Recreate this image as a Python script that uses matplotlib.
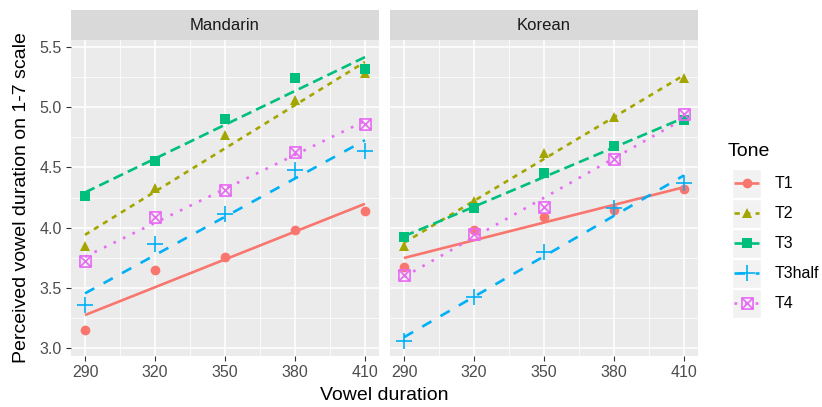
"""
Perceived vowel duration by tone, Mandarin vs Korean listeners.
ggplot-like facets redrawn with matplotlib: points + per-tone linear fit.
"""
import numpy as np
import matplotlib
matplotlib.use('Agg')
import matplotlib.pyplot as plt
from matplotlib.path import Path
from matplotlib.patches import Rectangle

plt.rcParams['font.family'] = ['Liberation Sans', 'DejaVu Sans']

durations = [290, 320, 350, 380, 410]
tones = ['T1', 'T2', 'T3', 'T3half', 'T4']
panels = ['Mandarin', 'Korean']

mandarin_T1 = [3.15, 3.65, 3.76, 3.98, 4.14]
mandarin_T2 = [3.85, 4.33, 4.77, 5.06, 5.28]
mandarin_T3 = [4.26, 4.55, 4.90, 5.24, 5.32]
mandarin_T3half = [3.36, 3.86, 4.11, 4.48, 4.64]
mandarin_T4 = [3.72, 4.09, 4.31, 4.63, 4.86]

korean_T1 = [3.67, 3.98, 4.09, 4.15, 4.32]
korean_T2 = [3.85, 4.22, 4.62, 4.92, 5.24]
korean_T3 = [3.92, 4.16, 4.45, 4.68, 4.89]
korean_T3half = [3.06, 3.42, 3.80, 4.16, 4.37]
korean_T4 = [3.61, 3.95, 4.17, 4.57, 4.94]

values = {
    'Mandarin': [mandarin_T1, mandarin_T2, mandarin_T3, mandarin_T3half, mandarin_T4],
    'Korean': [korean_T1, korean_T2, korean_T3, korean_T3half, korean_T4],
}

# ggplot hue palette, default linetypes and shapes 16/17/15/3/7
colors = ['#F8766D', '#A3A500', '#00BF7D', '#00B0F6', '#E76BF3']
dashes = [None, (2, 2), (4, 2), (4, 4), (1, 3)]
box_x = Path([(-1, -1), (1, -1), (1, 1), (-1, 1), (-1, -1),
              (-1, -1), (1, 1), (-1, 1), (1, -1)],
             [Path.MOVETO, Path.LINETO, Path.LINETO, Path.LINETO, Path.CLOSEPOLY,
              Path.MOVETO, Path.LINETO, Path.MOVETO, Path.LINETO])
markers = ['o', '^', 's', '+', box_x]
msizes = [7, 7.5, 6.5, 11.5, 8]

W, H = 822, 407
fig = plt.figure(figsize=(W / 100, H / 100), dpi=100)
fig.patch.set_facecolor('white')

def fx(px):
    return px / W

def fy(py):
    return 1 - py / H

panel_left = [71, 390]
panel_w = 308
p_top, p_bot, s_top = 40, 356, 10

x = np.array(durations, dtype=float)
xfit = np.linspace(290, 410, 50)

def draw_series(ax, xs, ys, i, xf=None, yf=None, lw=1.9):
    kw = dict(color=colors[i], lw=lw, solid_capstyle='butt', dash_capstyle='butt')
    if dashes[i] is not None:
        kw['dashes'] = dashes[i]
    if xf is not None:
        ax.plot(xf, yf, zorder=3, **kw)
    mk = dict(marker=markers[i], ms=msizes[i], ls='none', color=colors[i], zorder=4)
    if i == 3:
        mk['mew'] = 1.2
    elif i == 4:
        mk.update(mfc='none', mew=1.2)
    else:
        mk['mew'] = 0
    ax.plot(xs, ys, **mk)

for k, name in enumerate(panels):
    ax = fig.add_axes([fx(panel_left[k]), fy(p_bot), fx(panel_w), (p_bot - p_top) / H])
    ax.set_facecolor('#EBEBEB')
    for s in ax.spines.values():
        s.set_visible(False)
    ax.set_xlim(284, 416)
    ax.set_ylim(2.934, 5.558)
    ax.set_xticks(durations)
    ax.set_xticks([305, 335, 365, 395], minor=True)
    ax.set_yticks([3.0, 3.5, 4.0, 4.5, 5.0, 5.5])
    ax.set_yticks([3.25, 3.75, 4.25, 4.75, 5.25], minor=True)
    ax.grid(which='major', color='white', lw=1.1)
    ax.grid(which='minor', color='white', lw=0.55)
    ax.set_axisbelow(True)
    ax.tick_params(which='major', length=3.5, width=0.8, color='#333333',
                   labelsize=11.5, labelcolor='#4D4D4D', pad=3)
    ax.tick_params(which='minor', length=0)
    if k == 0:
        ax.set_yticklabels([f'{v:.1f}' for v in [3.0, 3.5, 4.0, 4.5, 5.0, 5.5]])
    else:
        ax.set_yticklabels([])
        ax.tick_params(axis='y', which='major', length=0)

    for i, ys in enumerate(values[name]):
        b, a = np.polyfit(x, ys, 1)
        draw_series(ax, x, ys, i, xfit, a + b * xfit)

    # facet strip
    st = fig.add_axes([fx(panel_left[k]), fy(p_top), fx(panel_w), (p_top - s_top) / H])
    st.set_facecolor('#D9D9D9')
    st.set_xticks([])
    st.set_yticks([])
    for s in st.spines.values():
        s.set_visible(False)
    st.text(0.5, 0.5, name, ha='center', va='center', fontsize=12, color='#1A1A1A',
            transform=st.transAxes)

fig.text(fx(22), fy((p_top + p_bot) / 2), 'Perceived vowel duration on 1-7 scale',
         rotation=90, ha='center', va='center', fontsize=14, color='black')
fig.text(fx(384), fy(395), 'Vowel duration', ha='center', va='center',
         fontsize=14, color='black')

# legend drawn by hand to get ggplot's grey key boxes
lg = fig.add_axes([0, 0, 1, 1], facecolor='none')
lg.set_xlim(0, W)
lg.set_ylim(H, 0)
lg.axis('off')
lg.text(728, 152, 'Tone', ha='left', va='center', fontsize=14)
row0, step = 183, 30
for i, t in enumerate(tones):
    cy = row0 + i * step
    lg.add_patch(Rectangle((732, cy - 14.5), 29, 29, facecolor='#F2F2F2', edgecolor='white', lw=1))
    draw_series(lg, [746.5], [cy], i, [734, 759], [cy, cy])
    lg.text(775, cy, t, ha='left', va='center', fontsize=11.5, color='black')

fig.savefig('out.png', dpi=100, facecolor='white')
